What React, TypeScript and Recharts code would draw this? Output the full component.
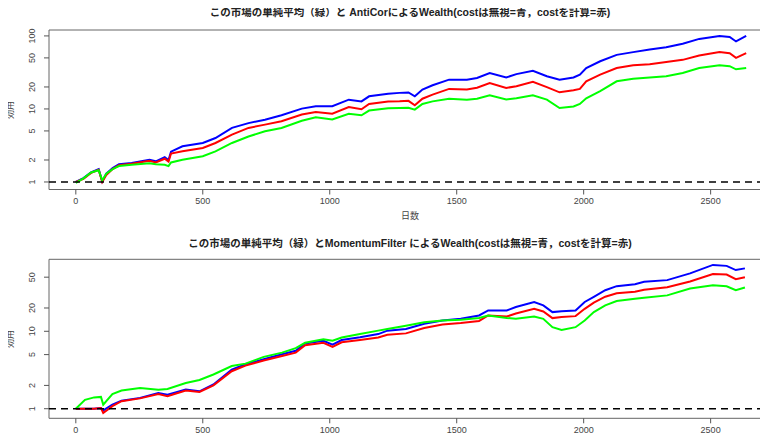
import React from "react";
import { LineChart, Line, XAxis, YAxis, ReferenceLine, ReferenceArea } from "recharts";

// 上段: AntiCor
const days1 = [0, 30, 60, 90, 104, 120, 145, 170, 220, 290, 315, 350, 365, 375, 420, 500, 550, 615, 680, 745, 810, 890, 945, 1010, 1075, 1125, 1155, 1230, 1275, 1310, 1335, 1365, 1405, 1470, 1540, 1580, 1630, 1695, 1735, 1800, 1855, 1905, 1960, 1985, 2010, 2065, 2130, 2195, 2260, 2325, 2390, 2455, 2535, 2575, 2600, 2640];
const blue1 = [1.0, 1.13, 1.35, 1.5, 1.02, 1.3, 1.55, 1.75, 1.82, 2.02, 1.92, 2.18, 1.99, 2.6, 3.08, 3.42, 4.0, 5.5, 6.4, 7.1, 8.2, 10.1, 10.9, 10.9, 13.4, 12.7, 14.9, 16.2, 16.6, 16.8, 14.9, 18.4, 21.1, 25.2, 25.2, 26.5, 31, 27, 30, 33.3, 28, 25.2, 27, 29.5, 36.3, 45, 55, 60, 65, 70, 78, 91, 100, 97, 84, 100];
const red1 = [1.0, 1.1, 1.33, 1.47, 1.0, 1.25, 1.5, 1.7, 1.78, 1.95, 1.85, 2.08, 1.9, 2.45, 2.63, 2.92, 3.42, 4.45, 5.5, 6.1, 6.8, 8.4, 9.1, 8.6, 10.6, 9.9, 11.7, 12.6, 12.7, 12.9, 11.2, 13.8, 15.7, 18.8, 18.5, 19.5, 22.7, 19.4, 20.5, 23.5, 19.9, 16.9, 18, 18.8, 23.9, 29.5, 36.3, 39.6, 41, 44, 47, 54, 60, 58, 50, 58];
const green1 = [0.97, 1.12, 1.35, 1.45, 1.05, 1.3, 1.5, 1.65, 1.72, 1.8, 1.75, 1.72, 1.65, 1.85, 2.02, 2.25, 2.63, 3.42, 4.2, 4.95, 5.5, 6.9, 7.7, 7.2, 8.6, 8.2, 9.5, 10.2, 10.3, 10.4, 9.8, 11.7, 12.7, 13.8, 13.4, 13.8, 15.4, 13.5, 14, 15.4, 13.4, 10.3, 10.8, 11.7, 14, 17.5, 23.9, 26, 27, 28, 31, 36.3, 39.6, 38.5, 34.9, 36.3];

// 下段: MomentumFilter
const days2 = [0, 36, 72, 99, 108, 144, 180, 253, 325, 361, 433, 487, 542, 614, 668, 740, 812, 866, 903, 975, 1011, 1047, 1119, 1191, 1227, 1300, 1372, 1444, 1516, 1588, 1624, 1697, 1733, 1805, 1841, 1877, 1913, 1968, 2004, 2040, 2085, 2130, 2202, 2238, 2329, 2419, 2509, 2563, 2599, 2635];
const blue2 = [1.0, 1.0, 1.0, 1.02, 0.95, 1.13, 1.27, 1.38, 1.6, 1.52, 1.77, 1.68, 2.06, 3.2, 3.75, 4.35, 5.06, 5.6, 6.97, 7.55, 6.7, 7.7, 8.35, 9.2, 10.2, 10.7, 12.5, 13.8, 14.5, 16, 18.6, 18.6, 20.6, 23.9, 21.6, 17.7, 18.2, 18.6, 23.9, 27.8, 33.9, 38.3, 40.6, 43.6, 45.8, 56, 72, 70, 61.8, 65];
const red2 = [1.0, 1.0, 1.0, 1.02, 0.88, 1.08, 1.25, 1.36, 1.55, 1.45, 1.72, 1.65, 2.0, 3.05, 3.6, 4.2, 4.8, 5.3, 6.6, 7.1, 6.3, 7.2, 7.7, 8.3, 9.0, 9.4, 11.0, 12.2, 12.8, 13.6, 16.0, 15.5, 17.0, 19.5, 18.0, 14.8, 15.3, 15.7, 19.5, 23.5, 28, 31, 32.5, 34.5, 37, 44, 55, 54, 47, 50];
const green2 = [1.0, 1.3, 1.4, 1.42, 1.13, 1.55, 1.72, 1.85, 1.76, 1.8, 2.15, 2.35, 2.77, 3.56, 3.82, 4.67, 5.3, 6.05, 7.1, 7.9, 7.55, 8.3, 9.2, 10.2, 10.7, 11.8, 13.1, 13.8, 14.1, 14.9, 16.0, 14.9, 14.5, 15.5, 14.5, 11.3, 10.4, 11.3, 13.8, 17.7, 21.6, 24.6, 26.4, 27.2, 29.1, 35.6, 39.4, 38.2, 33.9, 36.7];

const xTicks = [0, 500, 1000, 1500, 2000, 2500];
const yTicks1 = [1, 2, 5, 10, 20, 50, 100];
const yTicks2 = [1, 2, 5, 10, 20, 50];

const title1 = "この市場の単純平均（緑）と AntiCorによるWealth(costは無視=青，costを計算=赤)";
const title2 = "この市場の単純平均（緑）とMomentumFilter によるWealth(costは無視=青，costを計算=赤)";

const FONT = "'Liberation Sans', Arial, 'Noto Sans CJK JP', sans-serif";
const X_DOMAIN: [number, number] = [-105.6, 2745.6];

const YTick = (props: any) => {
    const { x, y, payload } = props;
    return (
        <text x={x} y={y} transform={`rotate(-90 ${x} ${y})`} textAnchor="middle" fontSize={9} fill="#444" fontFamily={FONT}>
            {payload.value}
        </text>
    );
};

function Panel({ days, blue, red, green, yTicks, yDomain, top, bottomH }: any) {
    const data = days.map((d: number, i: number) => ({ day: d, blue: blue[i], red: red[i], green: green[i] }));
    return (
        <LineChart width={780} height={224} data={data} margin={{ top, right: 7, bottom: 0, left: 0 }}>
            <XAxis
                type="number"
                dataKey="day"
                domain={X_DOMAIN}
                allowDataOverflow
                ticks={xTicks}
                interval={0}
                axisLine={false}
                tickSize={5}
                tickMargin={3}
                height={bottomH}
                tickLine={{ stroke: "#555" }}
                tick={{ fontSize: 9, fill: "#444", fontFamily: FONT }}
            />
            <YAxis
                type="number"
                scale="log"
                domain={yDomain}
                allowDataOverflow
                ticks={yTicks}
                interval={0}
                width={49}
                axisLine={false}
                tickSize={5}
                tickMargin={9}
                tickLine={{ stroke: "#555" }}
                tick={<YTick />}
            />
            <ReferenceArea x1={X_DOMAIN[0]} x2={X_DOMAIN[1]} y1={yDomain[0]} y2={yDomain[1]} fill="none" stroke="#666" strokeWidth={1} ifOverflow="visible" />
            <Line type="linear" dataKey="blue" stroke="#0000ff" strokeWidth={2} dot={false} isAnimationActive={false} />
            <Line type="linear" dataKey="red" stroke="#ff0000" strokeWidth={2} dot={false} isAnimationActive={false} />
            <Line type="linear" dataKey="green" stroke="#00ff00" strokeWidth={2} dot={false} isAnimationActive={false} />
            <ReferenceLine y={1} stroke="#000" strokeWidth={1.5} strokeDasharray="7 5" />
        </LineChart>
    );
}

const textStyle: React.CSSProperties = { position: "absolute", fontFamily: FONT, whiteSpace: "nowrap", lineHeight: 1 };

export default function App() {
    return (
        <div style={{ position: "relative", width: 768, height: 448, overflow: "hidden", margin: -8, background: "#fff" }}>
            <div style={{ position: "absolute", left: 0, top: 0 }}>
                <Panel days={days1} blue={blue1} red={red1} green={green1} yTicks={yTicks1} yDomain={[0.789, 120.5]} top={30} bottomH={34.5} />
            </div>
            <div style={{ position: "absolute", left: 0, top: 224 }}>
                <Panel days={days2} blue={blue2} red={red2} green={green2} yTicks={yTicks2} yDomain={[0.752, 85.1]} top={35.3} bottomH={29.7} />
            </div>
            <div style={{ ...textStyle, left: 410, top: 12, transform: "translate(-50%, -50%)", fontSize: 10.5, fontWeight: "bold", color: "#222" }}>{title1}</div>
            <div style={{ ...textStyle, left: 410, top: 243, transform: "translate(-50%, -50%)", fontSize: 10.5, fontWeight: "bold", color: "#222" }}>{title2}</div>
            <div style={{ ...textStyle, left: 410, top: 216, transform: "translate(-50%, -50%)", fontSize: 9, color: "#444" }}>日数</div>
            <div style={{ ...textStyle, left: 410, top: 445, transform: "translate(-50%, -50%)", fontSize: 9, color: "#444" }}>日数</div>
            <div style={{ ...textStyle, left: 10, top: 110, transform: "translate(-50%, -50%) rotate(-90deg)", fontSize: 9, color: "#444" }}>効用</div>
            <div style={{ ...textStyle, left: 10, top: 339, transform: "translate(-50%, -50%) rotate(-90deg)", fontSize: 9, color: "#444" }}>効用</div>
        </div>
    );
}
